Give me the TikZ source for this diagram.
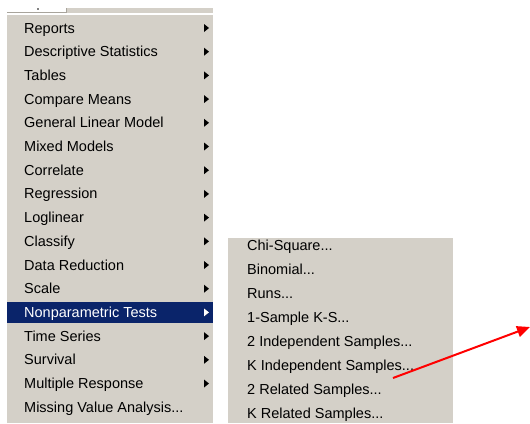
\documentclass[tikz,border=0pt]{standalone}
\usepackage{fontspec}
\setmainfont{Liberation Sans}
\usetikzlibrary{arrows.meta}
\definecolor{menugrey}{HTML}{D4D0C8}
\definecolor{menublue}{HTML}{0A246A}
\definecolor{menuedge}{HTML}{A8A49C}
\newcommand{\tdots}{...}
\tikzstyle{menuitem}=[anchor=base west,inner sep=0pt,font=\fontsize{14.5}{17}\selectfont]
\tikzstyle{submark}=[fill=black]
\tikzstyle{pointer}=[draw=red,line width=2pt,-{Triangle[length=13pt,width=11pt]}]

\begin{document}
\begin{tikzpicture}[x=1pt,y=-1pt]
   \useasboundingbox (0,0) rectangle (530,423);

   % bit of the menu bar above the list
   \fill[menugrey] (7,8) rectangle (213,13);
   \fill[white] (7,8) rectangle (66,12);
   \draw[menuedge,line width=0.8pt] (7,12) -- (66,12) -- (66,8);
   \fill[black] (38,9) circle (0.8);
   \fill[white] (7,13) rectangle (213,14.5);

   % main menu
   \fill[menugrey] (7,14.5) rectangle (213,423);
   \fill[menublue] (7,302) rectangle (213,323);

   \def\dy{23.7};
    \foreach \i/\label in {0/Reports, 1/Descriptive Statistics, 2/Tables, 3/Compare Means,
            4/General Linear Model, 5/Mixed Models, 6/Correlate, 7/Regression, 8/Loglinear,
            9/Classify, 10/Data Reduction, 11/Scale, 13/Time Series, 14/Survival,
            15/Multiple Response, 16/Missing Value Analysis\tdots}
            \node[menuitem] (m\i) at (24, 33 + \i*\dy) {\label};
    \node[menuitem, text=white] (m12) at (24, 33 + 12*\dy) {Nonparametric Tests};

    \foreach \i in {0,1,...,15}
            \fill[submark] (204, 24 + \i*\dy) -- (209, 28 + \i*\dy) -- (204, 32 + \i*\dy) -- cycle;
    \fill[white] (204, 24 + 12*\dy) -- (209, 28 + 12*\dy) -- (204, 32 + 12*\dy) -- cycle;


   % submenu
   \begin{scope}
   \clip (228,238) rectangle (453,423);
   \fill[menugrey] (228,238) rectangle (453,423);
   \def\dy{24};
    \foreach \i/\label in {0/Chi-Square\tdots, 1/Binomial\tdots, 2/Runs\tdots, 3/1-Sample K-S\tdots,
            4/2 Independent Samples\tdots, 5/K Independent Samples\tdots, 6/2 Related Samples\tdots,
            7/K Related Samples\tdots}
            \node[menuitem] (s\i) at (247, 250 + \i*\dy) {\label};
   \end{scope}

   % pointer
   \coordinate (tail) at (393,378);
   \coordinate (tip) at (530,327);
   \draw[pointer] (tail) -- (tip);

\end{tikzpicture}
\end{document}
